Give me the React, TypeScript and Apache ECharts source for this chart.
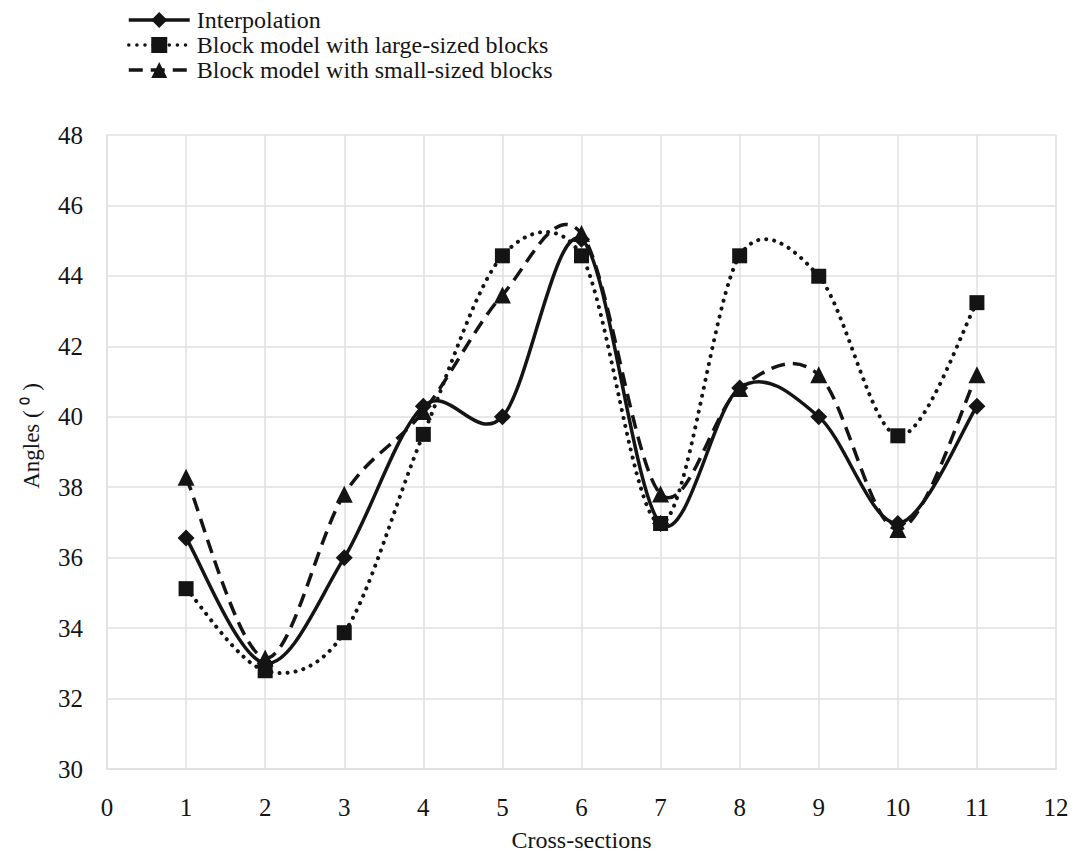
import React, { useEffect, useRef } from "react";
import * as echarts from "echarts";

const crossSections = [1, 2, 3, 4, 5, 6, 7, 8, 9, 10, 11];
const interpolation = [36.56, 33.0, 36.0, 40.3, 40.0, 45.04, 36.97, 40.82, 40.0, 36.97, 40.3];
const largeBlocks = [35.12, 32.79, 33.87, 39.5, 44.57, 44.57, 36.97, 44.57, 43.99, 39.46, 43.24];
const smallBlocks = [38.28, 33.15, 37.8, 40.15, 43.46, 45.2, 37.81, 40.8, 41.19, 36.8, 41.19];
const seriesNames = [
  "Interpolation",
  "Block model with large-sized blocks",
  "Block model with small-sized blocks",
];
const xTicks = [0, 12, 1];
const yTicks = [30, 48, 2];

const FONT = '"Liberation Serif", "Times New Roman", serif';
const INK = "#141414";

const allValues = [interpolation, largeBlocks, smallBlocks];
const symbols = ["diamond", "rect", "triangle"];
const symbolSizes = [17, 15, 17];
const widths = [3.5, 4, 3.5];
const dashes: (number[] | null)[] = [null, [0.1, 8], [14, 8]];
const lineTypes: any[] = ["solid", [0.1, 8], [14, 8]];

function pairs(vals: number[]) {
  return crossSections.map((x, i) => [x, vals[i]]);
}

// Spreadsheet-style smoothing: Catmull-Rom tangents (1/6 of the neighbour
// chord), each control arm capped at half of the segment's length.
function smoothPath(pts: number[][]) {
  const n = pts.length;
  const arm = (a: number[], b: number[], limit: number) => {
    let dx = (b[0] - a[0]) / 6;
    let dy = (b[1] - a[1]) / 6;
    const l = Math.hypot(dx, dy);
    if (l > limit && l > 0) {
      dx *= limit / l;
      dy *= limit / l;
    }
    return [dx, dy];
  };
  let d = `M${pts[0][0]},${pts[0][1]}`;
  for (let i = 0; i < n - 1; i++) {
    const p0 = pts[Math.max(0, i - 1)];
    const p1 = pts[i];
    const p2 = pts[i + 1];
    const p3 = pts[Math.min(n - 1, i + 2)];
    const half = Math.hypot(p2[0] - p1[0], p2[1] - p1[1]) / 2;
    const a1 = arm(p0, p2, half);
    const a2 = arm(p1, p3, half);
    const c1 = [p1[0] + a1[0], p1[1] + a1[1]];
    const c2 = [p2[0] - a2[0], p2[1] - a2[1]];
    d += ` C${c1[0]},${c1[1]} ${c2[0]},${c2[1]} ${p2[0]},${p2[1]}`;
  }
  return d;
}

export default function App() {
  const ref = useRef<HTMLDivElement>(null);
  useEffect(() => {
    document.body.style.margin = "0";
    if (!ref.current) return;
    const chart = echarts.init(ref.current, undefined, { renderer: "svg" });

    const curveSeries = allValues.map((vals, k) => ({
      name: "curve-" + k,
      type: "custom",
      coordinateSystem: "cartesian2d",
      data: [[crossSections[0], vals[0]]],
      silent: true,
      z: 2,
      renderItem: (_params: any, api: any) => {
        const pts = crossSections.map((x, i) => api.coord([x, vals[i]]));
        const style: any = {
          fill: "none",
          stroke: INK,
          lineWidth: widths[k],
          lineCap: k === 1 ? "round" : "butt",
        };
        if (dashes[k]) style.lineDash = dashes[k];
        return {
          type: "path",
          shape: { pathData: smoothPath(pts) },
          style,
        };
      },
    }));

    const markerSeries = allValues.map((vals, k) => ({
      name: seriesNames[k],
      type: "line",
      data: pairs(vals),
      symbol: symbols[k],
      symbolSize: symbolSizes[k],
      z: 3,
      itemStyle: { color: INK },
      lineStyle: { color: INK, width: 0, type: lineTypes[k], cap: k === 1 ? "round" : "butt" },
    }));

    chart.setOption({
      animation: false,
      backgroundColor: "#ffffff",
      textStyle: { fontFamily: FONT, color: INK },
      legend: {
        orient: "vertical",
        left: 127,
        top: 8,
        padding: 0,
        itemGap: 1,
        itemWidth: 61,
        itemHeight: 20,
        lineStyle: { width: 3.5 },
        textStyle: {
          fontFamily: FONT,
          fontSize: 24,
          color: INK,
          lineHeight: 24,
          padding: [0, 0, 0, 2],
        },
        data: seriesNames,
      },
      grid: { left: 107, right: 18, top: 135, bottom: 83, containLabel: false },
      xAxis: {
        type: "value",
        min: xTicks[0],
        max: xTicks[1],
        interval: xTicks[2],
        name: "Cross-sections",
        nameLocation: "middle",
        nameGap: 59,
        nameTextStyle: { fontFamily: FONT, fontSize: 24, color: INK, lineHeight: 24 },
        axisLine: { show: true, lineStyle: { color: "#e0e0e0", width: 1.5 } },
        axisTick: { show: false },
        axisLabel: { fontFamily: FONT, fontSize: 25, color: INK, margin: 26 },
        splitLine: { show: true, lineStyle: { color: "#e0e0e0", width: 1.5 } },
      },
      yAxis: {
        type: "value",
        min: yTicks[0],
        max: yTicks[1],
        interval: yTicks[2],
        name: "Angles ( \u2070 )",
        nameLocation: "middle",
        nameGap: 64,
        nameTextStyle: {
          fontFamily: FONT,
          fontSize: 23,
          color: INK,
          padding: [0, 0, 0, 32],
        },
        axisLine: { show: true, lineStyle: { color: "#e0e0e0", width: 1.5 } },
        axisTick: { show: false },
        axisLabel: { fontFamily: FONT, fontSize: 25, color: INK, margin: 24 },
        splitLine: { show: true, lineStyle: { color: "#e0e0e0", width: 1.5 } },
      },
      series: [...curveSeries, ...markerSeries],
    });
    return () => chart.dispose();
  }, []);
  return <div ref={ref} style={{ width: 1074, height: 857 }} />;
}
